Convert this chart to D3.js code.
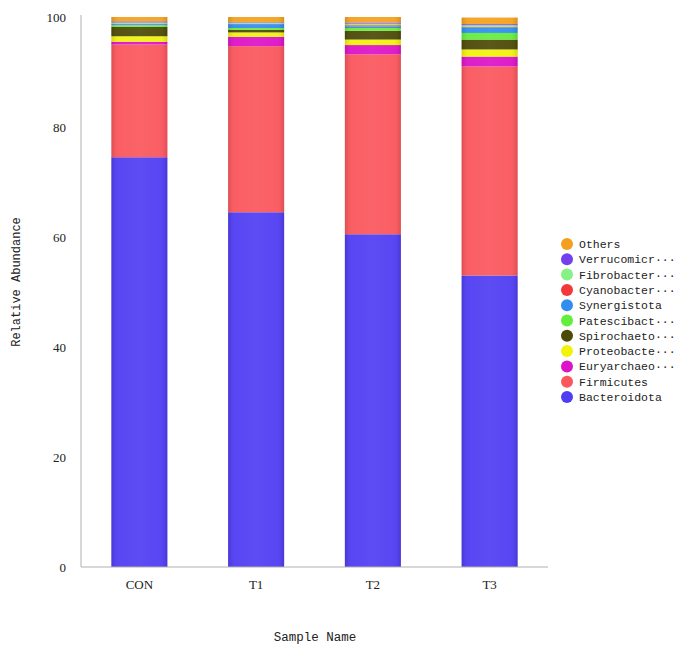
<!DOCTYPE html>
<html>
<head>
<meta charset="utf-8">
<script src="https://cdn.jsdelivr.net/npm/d3@7"></script>
<style>
  body { margin: 0; background: #fff; }
  svg { display: block; }
</style>
</head>
<body>
<div id="chart"></div>
<script>
const samples = ["CON", "T1", "T2", "T3"];
const taxa = ["Bacteroidota", "Firmicutes", "Euryarchaeota", "Proteobacteria", "Spirochaetota",
    "Patescibacteria", "Synergistota", "Cyanobacteria", "Fibrobacterota", "Verrucomicrobiota", "Others"];
const legendLabels = ["Bacteroidota", "Firmicutes", "Euryarchaeo\u00b7\u00b7\u00b7", "Proteobacte\u00b7\u00b7\u00b7",
    "Spirochaeto\u00b7\u00b7\u00b7", "Patescibact\u00b7\u00b7\u00b7", "Synergistota", "Cyanobacter\u00b7\u00b7\u00b7",
    "Fibrobacter\u00b7\u00b7\u00b7", "Verrucomicr\u00b7\u00b7\u00b7", "Others"];
const colors = ["#4f3df2", "#fa565c", "#dc12c8", "#f2f20a", "#4c4a06",
    "#62ee3a", "#2f8ef0", "#f23838", "#86f286", "#7440ee", "#f4a01e"];

// relative abundance (%) per taxon, in sample order
const bacteroidota = [74.5, 64.5, 60.5, 53.0];
const firmicutes = [20.5, 30.2, 32.7, 38.0];
const euryarchaeota = [0.5, 1.7, 1.7, 1.8];
const proteobacteria = [1.0, 0.8, 1.0, 1.3];
const spirochaetota = [1.7, 0.5, 1.6, 1.8];
const patescibacteria = [0.3, 0.3, 0.5, 1.2];
const synergistota = [0.2, 0.7, 0.3, 1.0];
const cyanobacteria = [0.1, 0.1, 0.2, 0.1];
const fibrobacterota = [0.2, 0.2, 0.3, 0.3];
const verrucomicrobiota = [0.2, 0.1, 0.2, 0.2];
const others = [0.8, 0.9, 1.0, 1.2];

const yTicks = [0, 20, 40, 60, 80, 100];

const series = [bacteroidota, firmicutes, euryarchaeota, proteobacteria, spirochaetota,
    patescibacteria, synergistota, cyanobacteria, fibrobacterota, verrucomicrobiota, others];

const table = samples.map((s, i) => {
    const row = { sample: s };
    taxa.forEach((t, k) => row[t] = series[k][i]);
    return row;
});

const width = 677;
const height = 654;
const padLeft = 81, padRight = 548, padTop = 17, padBottom = 567;

const svg = d3.select("#chart")
    .append("svg")
    .attr("width", width)
    .attr("height", height);

const defs = svg.append("defs");
const grad = defs.append("linearGradient").attr("id", "shade").attr("x1", 0).attr("x2", 1).attr("y1", 0).attr("y2", 0);
grad.append("stop").attr("offset", "0%").attr("stop-color", "#000").attr("stop-opacity", 0.12);
grad.append("stop").attr("offset", "12%").attr("stop-color", "#fff").attr("stop-opacity", 0.05);
grad.append("stop").attr("offset", "50%").attr("stop-color", "#fff").attr("stop-opacity", 0.08);
grad.append("stop").attr("offset", "88%").attr("stop-color", "#fff").attr("stop-opacity", 0.05);
grad.append("stop").attr("offset", "100%").attr("stop-color", "#000").attr("stop-opacity", 0.12);

const xScale = d3.scaleBand()
    .domain(samples)
    .range([padLeft, padRight])
    .paddingInner(0.52)
    .paddingOuter(0.26);

const yScale = d3.scaleLinear()
    .domain([0, 100])
    .range([padBottom, padTop]);

const stack = d3.stack().keys(taxa)(table);

svg.append("g")
    .selectAll("g")
    .data(stack)
    .enter()
    .append("g")
    .attr("fill", (d, i) => colors[i])
    .selectAll("rect")
    .data(d => d)
    .enter()
    .append("rect")
    .attr("x", d => xScale(d.data.sample))
    .attr("y", d => yScale(d[1]))
    .attr("width", xScale.bandwidth())
    .attr("height", d => yScale(d[0]) - yScale(d[1]));

// soft shading across each bar
svg.append("g")
    .selectAll("rect")
    .data(table)
    .enter()
    .append("rect")
    .attr("x", d => xScale(d.sample))
    .attr("y", d => yScale(d3.sum(taxa, t => d[t])))
    .attr("width", xScale.bandwidth())
    .attr("height", d => yScale(0) - yScale(d3.sum(taxa, t => d[t])))
    .attr("fill", "url(#shade)");

// axes
const yAxis = d3.axisLeft(yScale).tickValues(yTicks).tickSize(0).tickPadding(15);
const xAxis = d3.axisBottom(xScale).tickSize(0).tickPadding(13);

const gy = svg.append("g")
    .attr("transform", `translate(${padLeft},0)`)
    .call(yAxis);
gy.select(".domain").attr("d", `M0,${padTop - 2}V${padBottom}`).attr("stroke", "#b0b0b0");
gy.selectAll("text")
    .attr("font-family", "'Liberation Serif', serif")
    .attr("font-size", 13)
    .attr("fill", "#222");

const gx = svg.append("g")
    .attr("transform", `translate(0,${padBottom})`)
    .call(xAxis);
gx.select(".domain").attr("d", `M${padLeft},0H${padRight}`).attr("stroke", "#b0b0b0");
gx.selectAll("text")
    .attr("font-family", "'Liberation Serif', serif")
    .attr("font-size", 13)
    .attr("fill", "#222");

svg.append("text")
    .attr("transform", `translate(20,282) rotate(-90)`)
    .attr("text-anchor", "middle")
    .attr("font-family", "'Liberation Mono', monospace")
    .attr("font-size", 12)
    .attr("fill", "#222")
    .text("Relative Abundance");

svg.append("text")
    .attr("x", 315)
    .attr("y", 641)
    .attr("text-anchor", "middle")
    .attr("font-family", "'Liberation Mono', monospace")
    .attr("font-size", 12.5)
    .attr("fill", "#222")
    .text("Sample Name");

// legend, top entry is the last stacked series
const legend = svg.append("g").attr("transform", "translate(567,244)");
const order = d3.range(taxa.length).reverse();
const items = legend.selectAll("g")
    .data(order)
    .enter()
    .append("g")
    .attr("transform", (d, i) => `translate(0,${i * 15.3})`);
items.append("circle")
    .attr("r", 6)
    .attr("fill", d => colors[d]);
items.append("text")
    .attr("x", 12)
    .attr("y", 4)
    .attr("font-family", "'Liberation Mono', monospace")
    .attr("font-size", 11.5)
    .attr("fill", "#222")
    .text(d => legendLabels[d]);
</script>
</body>
</html>
